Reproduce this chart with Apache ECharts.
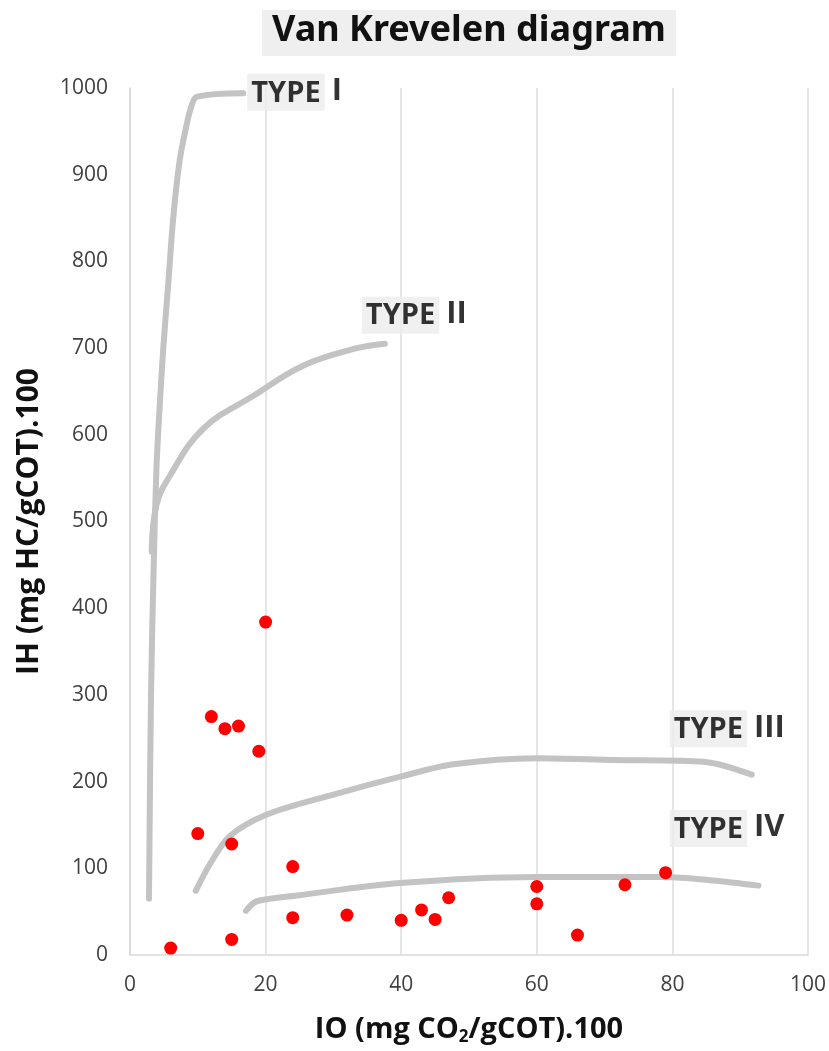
<!DOCTYPE html>
<html>
<head>
<meta charset="utf-8">
<script src="https://cdn.jsdelivr.net/npm/echarts@6/dist/echarts.min.js"></script>
<style>
  html, body { margin: 0; padding: 0; background: #fff; }
  #chart { width: 829px; height: 1051px; }
</style>
</head>
<body>
<div id="chart"></div>
<script>
// 样品点 (IO, IH)
const sampleIO = [20, 12, 14, 16, 19, 10, 15, 24, 24, 32, 6, 15, 40, 43, 45, 47, 60, 60, 66, 73, 79];
const sampleIH = [384, 275, 261, 264, 235, 140, 128, 102, 43, 46, 8, 18, 40, 52, 41, 66, 79, 59, 23, 81, 95];

// 演化曲线
const type1IO = [2.8, 3.1, 3.5, 3.9, 4.3, 4.9, 5.65, 6.4, 7.3, 8.2, 9.1, 9.9, 16.7];
const type1IH = [65, 300, 450, 561, 622, 699, 775, 852, 915, 952, 980, 990, 994];
const type2IO = [3.2, 3.9, 5.9, 10.8, 18.2, 25.6, 33, 37.6];
const type2IH = [465, 519, 553, 607, 645, 680, 699, 705];
const type3IO = [9.7, 11.8, 14.7, 20.2, 30, 40, 47.7, 60, 71.3, 84.6, 91.7];
const type3IH = [74, 105, 137, 162, 185, 206, 220, 227, 225, 223, 208];
const type4IO = [17.1, 18.7, 25, 39.8, 60, 78.7, 86, 92.7];
const type4IH = [51, 62, 69, 83, 90, 90, 86, 80];

// 类型标注
const typeNames = ['I', 'II', 'III', 'IV'];
const typeLabelIO = [17.3, 34.2, 79.6, 79.6];
const typeLabelIH = [995, 738, 261, 146];

const xTicks = [0, 20, 40, 60, 80, 100];
const yTicks = [0, 100, 200, 300, 400, 500, 600, 700, 800, 900, 1000];

const zip = (a, b) => a.map((v, i) => [v, b[i]]);

const curveStyle = {
  type: 'line',
  showSymbol: false,
  symbol: 'none',
  lineStyle: { color: '#c3c3c3', width: 6, cap: 'round', join: 'round' },
  z: 2,
  silent: true
};

const chart = echarts.init(document.getElementById('chart'));

const option = {
  backgroundColor: '#fff',
  animation: false,
  title: {
    text: 'Van Krevelen diagram',
    left: 262,
    top: 10,
    padding: [3, 10, 7, 10],
    backgroundColor: '#efefef',
    textStyle: {
      fontFamily: 'Noto Sans',
      fontWeight: 'bold',
      fontSize: 36,
      color: '#111'
    }
  },
  grid: { left: 130, right: 21, top: 88, bottom: 93 },
  xAxis: {
    type: 'value',
    min: xTicks[0],
    max: xTicks[xTicks.length - 1],
    interval: 20,
    name: '{a|IO (mg CO}{s|2}{a|/gCOT).100}',
    nameLocation: 'middle',
    nameGap: 58,
    nameTextStyle: {
      rich: {
        a: { fontFamily: 'Open Sans', fontWeight: 'bold', fontSize: 29, color: '#111' },
        s: { fontFamily: 'Open Sans', fontWeight: 'bold', fontSize: 17, color: '#111', padding: [16, 0, 0, 0] }
      }
    },
    axisLine: { show: true, lineStyle: { color: '#d9d9d9', width: 1.5 } },
    axisTick: { show: false },
    axisLabel: { fontFamily: 'Open Sans', fontSize: 21, color: '#404040', margin: 20 },
    splitLine: { show: true, lineStyle: { color: '#dedede', width: 1.5 } }
  },
  yAxis: {
    type: 'value',
    min: yTicks[0],
    max: yTicks[yTicks.length - 1],
    interval: 100,
    name: 'IH (mg HC/gCOT).100',
    nameLocation: 'middle',
    nameGap: 86,
    nameTextStyle: { fontFamily: 'Open Sans', fontWeight: 'bold', fontSize: 30, color: '#111' },
    axisLine: { show: true, lineStyle: { color: '#d9d9d9', width: 1.5 } },
    axisTick: { show: false },
    axisLabel: { fontFamily: 'Open Sans', fontSize: 21, color: '#404040', margin: 22, formatter: v => String(v) },
    splitLine: { show: false }
  },
  series: [
    { ...curveStyle, name: 'Type I', data: zip(type1IO, type1IH), smooth: 0.35 },
    { ...curveStyle, name: 'Type II', data: zip(type2IO, type2IH), smooth: 0.4 },
    { ...curveStyle, name: 'Type III', data: zip(type3IO, type3IH), smooth: 0.3 },
    { ...curveStyle, name: 'Type IV', data: zip(type4IO, type4IH), smooth: 0.3 },
    {
      name: 'Samples',
      type: 'scatter',
      data: zip(sampleIO, sampleIH),
      symbolSize: 13,
      itemStyle: { color: '#ff0000', opacity: 1 },
      z: 5
    },
    {
      name: 'Labels',
      type: 'scatter',
      symbolSize: 0,
      silent: true,
      data: typeNames.map((n, i) => ({ value: [typeLabelIO[i], typeLabelIH[i]], name: n })),
      label: {
        show: true,
        position: 'right',
        distance: 0,
        color: '#000',
        formatter: p => '{t|TYPE}{n|' + p.name + '}',
        rich: {
          t: {
            fontFamily: 'Open Sans', fontWeight: 'bold', fontSize: 29, color: '#000',
            backgroundColor: '#ececec', padding: [5, 4, 3, 4]
          },
          n: { fontFamily: 'Open Sans', fontWeight: 'bold', fontSize: 31, color: '#000', padding: [0, 0, 2, 7] }
        }
      },
      z: 6
    }
  ]
};

chart.setOption(option);
</script>
</body>
</html>
